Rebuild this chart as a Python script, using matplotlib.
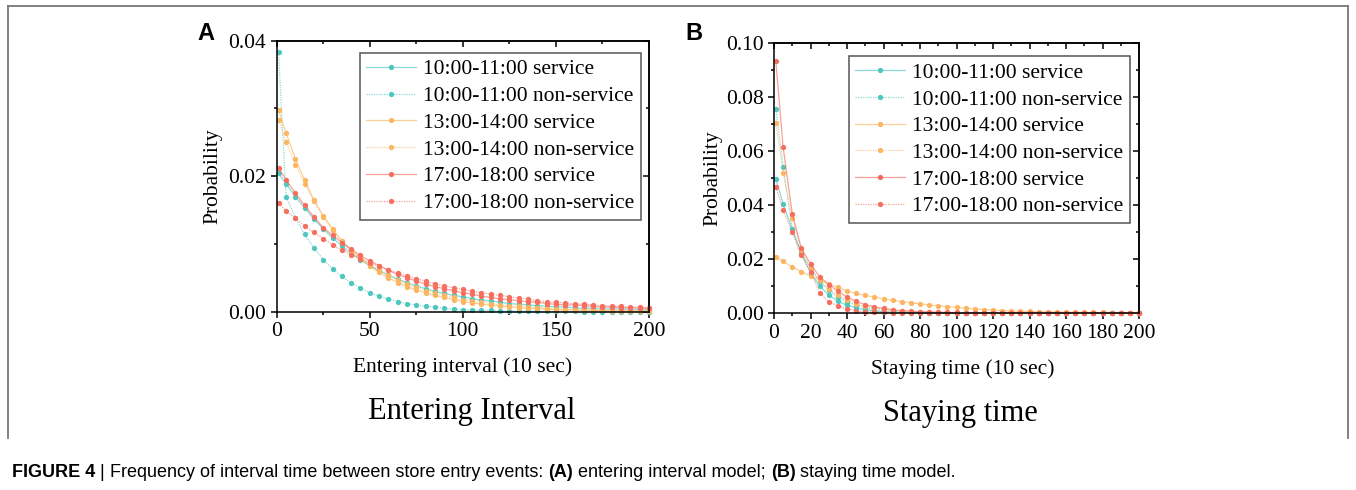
import matplotlib
matplotlib.use('Agg')
import matplotlib.pyplot as plt
from matplotlib.ticker import MultipleLocator, FormatStrFormatter
from matplotlib.lines import Line2D
from matplotlib import font_manager

plt.rcParams['font.family'] = ['Liberation Serif', 'DejaVu Serif']
plt.rcParams['axes.linewidth'] = 1.1

# sample positions (10 sec units)
x_pts = [1, 5, 10, 15, 20, 25, 30, 35, 40, 45, 50, 55, 60, 65, 70, 75, 80, 85, 90, 95, 100,
         105, 110, 115, 120, 125, 130, 135, 140, 145, 150, 155, 160, 165, 170, 175, 180,
         185, 190, 195, 200]

labels = ['10:00-11:00 service', '10:00-11:00 non-service',
          '13:00-14:00 service', '13:00-14:00 non-service',
          '17:00-18:00 service', '17:00-18:00 non-service']

# ---- A: entering interval ----
a_teal_s = [0.0204, 0.0189, 0.0170, 0.0153, 0.0137, 0.0122, 0.0109, 0.0097, 0.0086, 0.0077, 0.0068,
            0.0061, 0.0054, 0.0048, 0.0043, 0.0038, 0.0034, 0.0030, 0.0027, 0.0024, 0.0022,
            0.0019, 0.0017, 0.0016, 0.0014, 0.0012, 0.0011, 0.0010, 0.0009, 0.0008, 0.0007,
            0.0007, 0.0006, 0.0005, 0.0005, 0.0004, 0.0004, 0.0004, 0.0003, 0.0003, 0.0003]
a_teal_n = [0.0383, 0.0170, 0.0139, 0.0114, 0.0094, 0.0077, 0.0063, 0.0052, 0.0042, 0.0035, 0.0028,
            0.0023, 0.0019, 0.0015, 0.0012, 0.0010, 0.0008, 0.0007, 0.0005, 0.0004, 0.0003,
            0.0003, 0.0002, 0.0002, 0.0001, 0.0001, 0.0001, 0.00008, 0.00006, 0.00005, 0.00004,
            0.00003, 0.00003, 0.00002, 0.00002, 0.00002, 0.00001, 0.00001, 0.00001, 0.00001, 0.00001]
a_orng_s = [0.0297, 0.0264, 0.0226, 0.0194, 0.0165, 0.0141, 0.0122, 0.0104, 0.0090, 0.0078, 0.0067,
            0.0058, 0.0050, 0.0043, 0.0037, 0.0032, 0.0028, 0.0024, 0.0021, 0.0018, 0.0015,
            0.0013, 0.0011, 0.0010, 0.0008, 0.0007, 0.0006, 0.0005, 0.0005, 0.0004, 0.0003,
            0.0003, 0.0003, 0.0002, 0.0002, 0.0002, 0.0001, 0.0001, 0.0001, 0.0001, 0.0001]
a_orng_n = [0.0283, 0.0251, 0.0217, 0.0189, 0.0163, 0.0140, 0.0121, 0.0105, 0.0091, 0.0080, 0.0070,
            0.0061, 0.0054, 0.0047, 0.0041, 0.0036, 0.0031, 0.0027, 0.0024, 0.0021, 0.0018,
            0.0016, 0.0014, 0.0012, 0.0010, 0.0009, 0.0008, 0.0007, 0.0006, 0.0005, 0.0004,
            0.0004, 0.0003, 0.0003, 0.0003, 0.0002, 0.0002, 0.0002, 0.0002, 0.0001, 0.0001]
a_red_s = [0.0212, 0.0195, 0.0175, 0.0157, 0.0140, 0.0124, 0.0113, 0.0102, 0.0092, 0.0083, 0.0075,
           0.0068, 0.0061, 0.0055, 0.0050, 0.0045, 0.0041, 0.0037, 0.0034, 0.0031, 0.0028,
           0.0026, 0.0023, 0.0021, 0.0019, 0.0018, 0.0016, 0.0015, 0.0014, 0.0012, 0.0011,
           0.0010, 0.0010, 0.0009, 0.0008, 0.0007, 0.0007, 0.0006, 0.0006, 0.0005, 0.0005]
a_red_n = [0.0160, 0.0149, 0.0138, 0.0126, 0.0117, 0.0108, 0.0099, 0.0091, 0.0084, 0.0078, 0.0072,
           0.0067, 0.0062, 0.0057, 0.0053, 0.0049, 0.0045, 0.0041, 0.0038, 0.0035, 0.0033,
           0.0030, 0.0028, 0.0026, 0.0024, 0.0022, 0.0020, 0.0019, 0.0016, 0.0015, 0.0014,
           0.0013, 0.0012, 0.0011, 0.0010, 0.0009, 0.0008, 0.0008, 0.0007, 0.0007, 0.0006]

# ---- B: staying time ----
b_teal_s = [0.0497, 0.0404, 0.0310, 0.0220, 0.0150, 0.0100, 0.0068, 0.0045, 0.0030, 0.0020, 0.0013,
            0.0009, 0.0006, 0.0004, 0.0003, 0.0002, 0.0001, 0.0001, 0.0001, 0.00005, 0.00005,
            0.00003, 0.00003, 0.00002, 0.00002, 0.00001, 0.00001, 0.00001, 0.00001, 0.0, 0.0,
            0.0, 0.0, 0.0, 0.0, 0.0, 0.0, 0.0, 0.0, 0.0, 0.0]
b_teal_n = [0.0755, 0.0542, 0.0310, 0.0228, 0.0166, 0.0118, 0.0085, 0.0060, 0.0042, 0.0030, 0.0021,
            0.0015, 0.0011, 0.0008, 0.0006, 0.0004, 0.0003, 0.0002, 0.0002, 0.0001, 0.0001,
            0.00008, 0.00006, 0.00005, 0.00004, 0.00003, 0.00002, 0.00002, 0.00001, 0.00001, 0.00001,
            0.0, 0.0, 0.0, 0.0, 0.0, 0.0, 0.0, 0.0, 0.0, 0.0]
b_orng_s = [0.0209, 0.0192, 0.0171, 0.0154, 0.0138, 0.0123, 0.0108, 0.0096, 0.0082, 0.0074, 0.0066,
            0.0060, 0.0054, 0.0048, 0.0043, 0.0039, 0.0035, 0.0031, 0.0028, 0.0025, 0.0022,
            0.0019, 0.0016, 0.0014, 0.0012, 0.0010, 0.0009, 0.0008, 0.0007, 0.0006, 0.0005,
            0.0005, 0.0004, 0.0004, 0.0003, 0.0003, 0.0003, 0.0002, 0.0002, 0.0002, 0.0002]
b_orng_n = [0.0705, 0.0518, 0.0354, 0.0234, 0.0166, 0.0122, 0.0090, 0.0066, 0.0049, 0.0036, 0.0027,
            0.0020, 0.0015, 0.0011, 0.0008, 0.0006, 0.0005, 0.0004, 0.0003, 0.0002, 0.0002,
            0.00015, 0.00012, 0.0001, 0.00008, 0.00006, 0.00005, 0.00004, 0.00003, 0.00003, 0.00002,
            0.00002, 0.00002, 0.00001, 0.00001, 0.00001, 0.00001, 0.00001, 0.0, 0.0, 0.0]
b_red_s = [0.0932, 0.0615, 0.0367, 0.0240, 0.0182, 0.0135, 0.0106, 0.0082, 0.0060, 0.0044, 0.0032,
           0.0024, 0.0018, 0.0013, 0.0010, 0.0008, 0.0006, 0.0005, 0.0004, 0.0003, 0.0003,
           0.0002, 0.0002, 0.0002, 0.0002, 0.0001, 0.0001, 0.0001, 0.0001, 0.0001, 0.0001,
           0.0001, 0.0001, 0.0001, 0.0001, 0.0001, 0.0001, 0.0001, 0.0001, 0.0001, 0.0001]
b_red_n = [0.0466, 0.0382, 0.0299, 0.0215, 0.0154, 0.0076, 0.0043, 0.0027, 0.0016, 0.0010, 0.0006,
           0.0004, 0.0003, 0.0002, 0.0001, 0.0001, 0.0001, 0.00005, 0.00005, 0.00003, 0.00003,
           0.00002, 0.00002, 0.00001, 0.00001, 0.00001, 0.0, 0.0, 0.0, 0.0, 0.0,
           0.0, 0.0, 0.0, 0.0, 0.0, 0.0, 0.0, 0.0, 0.0, 0.0]

teal = (0.30, 0.78, 0.75)
orange = (0.99, 0.71, 0.38)
red = (0.97, 0.43, 0.37)
colors = [teal, teal, orange, orange, red, red]
styles = ['-', (0, (1, 1)), '-', (0, (1, 1)), '-', (0, (1, 1))]

W, H = 1356, 490
fig = plt.figure(figsize=(W / 100, H / 100), dpi=100)


def fx(px):
    return px / W


def fy(py):
    return 1 - py / H


def style_axes(ax, xmaj, xmin, ymaj, ymin, ylim, fmt_y):
    ax.set_xlim(0, 200)
    ax.set_ylim(*ylim)
    ax.xaxis.set_major_locator(MultipleLocator(xmaj))
    ax.xaxis.set_minor_locator(MultipleLocator(xmin))
    ax.yaxis.set_major_locator(MultipleLocator(ymaj))
    ax.yaxis.set_minor_locator(MultipleLocator(ymin))
    ax.yaxis.set_major_formatter(FormatStrFormatter(fmt_y))
    ax.tick_params(which='both', direction='out', width=1.1, labelsize=15.5, pad=3)
    ax.tick_params(which='major', length=4.5)
    ax.tick_params(which='minor', length=2.5)
    top = ax.secondary_xaxis('top')
    top.xaxis.set_major_locator(MultipleLocator(xmaj))
    top.xaxis.set_minor_locator(MultipleLocator(xmin))
    top.tick_params(which='both', direction='in', labeltop=False, width=1.1)
    top.tick_params(which='major', length=4.5)
    top.tick_params(which='minor', length=2.5)
    right = ax.secondary_yaxis('right')
    right.yaxis.set_major_locator(MultipleLocator(ymaj))
    right.yaxis.set_minor_locator(MultipleLocator(ymin))
    right.tick_params(which='both', direction='in', labelright=False, width=1.1)
    right.tick_params(which='major', length=4.5)
    right.tick_params(which='minor', length=2.5)


def draw(ax, series):
    for ys, c, ls, lab in zip(series, colors, styles, labels):
        ax.plot(x_pts, ys, linestyle=ls, color=c + (0.65,), lw=0.9,
                marker='o', ms=3.8, mfc=c, mec='none', label=lab, clip_on=False)
    leg = ax.legend(loc='upper right', fontsize=15.5, frameon=True, fancybox=False,
                    edgecolor='#555555', framealpha=1, labelspacing=0.31,
                    handlelength=2.3, handletextpad=0.35, borderpad=0.3,
                    borderaxespad=0)
    leg.get_frame().set_linewidth(1.1)
    return leg


# panel A
axA = fig.add_axes([fx(276.7), fy(311.7), fx(649 - 276.7), (311.7 - 40.7) / H])
draw(axA, [a_teal_s, a_teal_n, a_orng_s, a_orng_n, a_red_s, a_red_n])
style_axes(axA, 50, 25, 0.02, 0.01, (0, 0.04), '%.2f')
axA.get_legend().set_bbox_to_anchor((0.9785, 0.955))

# panel B
axB = fig.add_axes([fx(774), fy(313.3), fx(1139 - 774), (313.3 - 42.7) / H])
draw(axB, [b_teal_s, b_teal_n, b_orng_s, b_orng_n, b_red_s, b_red_n])
style_axes(axB, 20, 10, 0.02, 0.01, (0, 0.10), '%.2f')
axB.get_legend().set_bbox_to_anchor((0.975, 0.95))

# axis labels and titles
fig.text(fx(213), fy(176), 'Probability', rotation=90, ha='center', va='center', fontsize=15.5)
fig.text(fx(713), fy(178), 'Probability', rotation=90, ha='center', va='center', fontsize=15.5)
fig.text(fx(463), fy(367), 'Entering interval (10 sec)', ha='center', va='center', fontsize=15.5)
fig.text(fx(963), fy(369), 'Staying time (10 sec)', ha='center', va='center', fontsize=15.5)
fig.text(fx(472), fy(411), 'Entering Interval', ha='center', va='center', fontsize=22)
fig.text(fx(960), fy(413), 'Staying time', ha='center', va='center', fontsize=22)
fig.text(fx(206), fy(33), 'A', ha='center', va='center', fontsize=17, weight='bold',
         family='Liberation Sans')
fig.text(fx(694), fy(33), 'B', ha='center', va='center', fontsize=17, weight='bold',
         family='Liberation Sans')

# outer frame
for xs, ys in [([8, 8], [6, 438]), ([8, 1348], [6, 6]), ([1348, 1348], [6, 438])]:
    fig.add_artist(Line2D([fx(v) for v in xs], [fy(v) for v in ys], color='#777777', lw=1.3))

# caption, drawn piece by piece
names = {f.name for f in font_manager.fontManager.ttflist}
cap_fam = 'Liberation Sans Narrow' if 'Liberation Sans Narrow' in names else 'Liberation Sans'
cap_size = 13.0 if cap_fam == 'Liberation Sans' else 15.5
pieces = [('FIGURE 4 ', 'bold'), ('| ', 'normal'),
          ('Frequency of interval time between store entry events: ', 'normal'),
          ('(A)', 'bold'), (' entering interval model; ', 'normal'),
          ('(B)', 'bold'), (' staying time model.', 'normal')]
renderer = fig.canvas.get_renderer()
xcur = 12
for txt, wt in pieces:
    t = fig.text(fx(xcur), fy(472), txt, ha='left', va='center', fontsize=cap_size,
                 weight=wt, family=cap_fam)
    bb = t.get_window_extent(renderer)
    xcur += bb.width

fig.savefig('out.png', dpi=100)
